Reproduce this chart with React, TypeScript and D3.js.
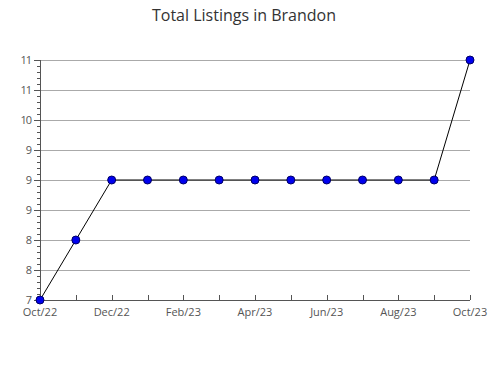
import React from "react";
import * as d3 from "d3";

const months = ["Oct/22","Nov/22","Dec/22","Jan/23","Feb/23","Mar/23","Apr/23","May/23","Jun/23","Jul/23","Aug/23","Sep/23","Oct/23"];
const listings = [7, 8, 9, 9, 9, 9, 9, 9, 9, 9, 9, 9, 11];
const yTickValues = [7, 7.5, 8, 8.5, 9, 9.5, 10, 10.5, 11];
const yTickLabels = ["7", "8", "8", "9", "9", "9", "10", "11", "11"];
const title = "Total Listings in Brandon";

export default function App() {
  const W = 490, H = 380;
  const left = 40, right = 470, top = 60, bottom = 300;
  const x = d3.scalePoint<string>().domain(months).range([left, right]);
  const y = d3.scaleLinear().domain([7, 11]).range([bottom, top]);
  const line = d3.line<number>().x((_, i) => x(months[i])!).y((d) => y(d));
  const minorTicks = d3.range(7, 11.0001, 0.1);
  const font = "'Open Sans', 'DejaVu Sans', sans-serif";
  return (
    <svg width={W} height={H} style={{ position: "absolute", left: 0, top: 0, background: "#fff" }}>
      <text x={244} y={21} textAnchor="middle" fontFamily={font} fontSize={16} fill="#333">{title}</text>
      {yTickValues.map((v) => (
        <line key={"g" + v} x1={left} x2={right} y1={Math.round(y(v)) + 0.5} y2={Math.round(y(v)) + 0.5} stroke="#aaa" strokeWidth={1} />
      ))}
      {minorTicks.map((v, i) => (
        <line key={"m" + i} x1={left - 3} x2={left} y1={Math.round(y(v)) + 0.5} y2={Math.round(y(v)) + 0.5} stroke="#555" strokeWidth={1} />
      ))}
      {yTickValues.map((v) => (
        <line key={"t" + v} x1={left - 6} x2={left} y1={Math.round(y(v)) + 0.5} y2={Math.round(y(v)) + 0.5} stroke="#555" strokeWidth={1} />
      ))}
      {yTickValues.map((v, i) => (
        <text key={"l" + v} x={left - 9} y={y(v) + 4} textAnchor="end" fontFamily={font} fontSize={11} fill="#555" letterSpacing={-1}>{yTickLabels[i]}</text>
      ))}
      <line x1={left + 0.5} x2={left + 0.5} y1={top} y2={bottom} stroke="#555" strokeWidth={1} />
      <line x1={left} x2={right} y1={bottom + 0.5} y2={bottom + 0.5} stroke="#555" strokeWidth={1} />
      {months.map((m) => (
        <line key={"xt" + m} x1={Math.round(x(m)!) + 0.5} x2={Math.round(x(m)!) + 0.5} y1={bottom - 5} y2={bottom} stroke="#555" strokeWidth={1} />
      ))}
      {months.map((m, i) => i % 2 === 0 ? (
        <text key={"xl" + m} x={x(m)!} y={bottom + 16} textAnchor="middle" fontFamily={font} fontSize={11} fill="#555">{m}</text>
      ) : null)}
      <path d={line(listings)!} fill="none" stroke="#000" strokeWidth={1} />
      {listings.map((v, i) => (
        <circle key={"p" + i} cx={x(months[i])!} cy={y(v)} r={4} fill="#0000ee" stroke="#000066" strokeWidth={1} />
      ))}
    </svg>
  );
}
